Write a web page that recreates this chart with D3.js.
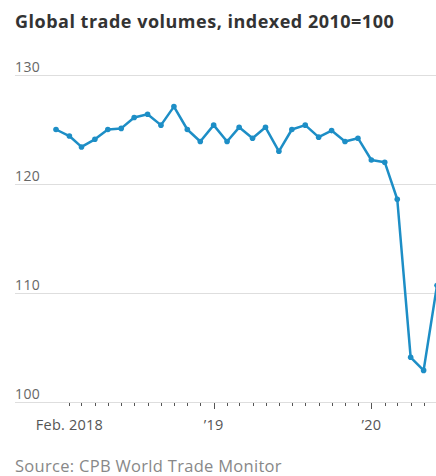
<!DOCTYPE html>
<html>
<head>
<meta charset="utf-8">
<script src="https://cdn.jsdelivr.net/npm/d3@7"></script>
<style>
  body { margin: 0; background: #fff; }
  svg { display: block; }
</style>
</head>
<body>
<svg id="chart" width="436" height="476"></svg>
<script>
// monthly index values, Jan 2018 .. Jun 2020
var months = ["2018-01","2018-02","2018-03","2018-04","2018-05","2018-06","2018-07","2018-08","2018-09","2018-10","2018-11","2018-12",
              "2019-01","2019-02","2019-03","2019-04","2019-05","2019-06","2019-07","2019-08","2019-09","2019-10","2019-11","2019-12",
              "2020-01","2020-02","2020-03","2020-04","2020-05","2020-06"];
var volumes = [125.0, 124.4, 123.4, 124.1, 125.0, 125.1, 126.1, 126.4, 125.4, 127.1, 125.0, 123.9,
               125.4, 123.9, 125.2, 124.2, 125.2, 123.0, 125.0, 125.4, 124.3, 124.9, 123.9, 124.2,
               122.2, 122.0, 118.6, 104.1, 102.9, 110.7];
var yTicks = [100, 110, 120, 130];
var xLabels = [["2018-02", "Feb. 2018"], ["2019-01", "\u201919"], ["2020-01", "\u201920"]];

var parse = d3.timeParse("%Y-%m");
var data = months.map(function(m, i){ return {date: parse(m), value: volumes[i]}; });

var svg = d3.select("#chart");
var W = 436;

var x = d3.scaleTime()
    .domain([parse("2018-01"), parse("2020-06")])
    .range([56, 437]);
var y = d3.scaleLinear()
    .domain([100, 130])
    .range([402, 75]);

// title
svg.append("text")
    .attr("x", 15).attr("y", 28)
    .text("Global trade volumes, indexed 2010=100")
    .style("font-family", "Open Sans")
    .style("font-weight", "bold")
    .style("font-size", "18px")
    .style("letter-spacing", "0.5px")
    .style("fill", "#333");

// gridlines + labels
var grid = svg.append("g");
grid.selectAll("line").data(yTicks).enter().append("line")
    .attr("x1", 15).attr("x2", W)
    .attr("y1", function(d){ return y(d) + 0.5; })
    .attr("y2", function(d){ return y(d) + 0.5; })
    .style("stroke", "#dedede")
    .style("stroke-width", 1);
grid.selectAll("text").data(yTicks).enter().append("text")
    .attr("x", 15)
    .attr("y", function(d){ return y(d) - 3; })
    .text(function(d){ return d; })
    .style("font-family", "Open Sans")
    .style("font-size", "14px")
    .style("letter-spacing", "0.4px")
    .style("fill", "#666");

// monthly tick marks
var tickDates = d3.timeMonth.range(parse("2018-02"), parse("2020-07"));
svg.append("g").selectAll("line").data(tickDates).enter().append("line")
    .attr("x1", function(d){ return Math.round(x(d)) + 0.5; })
    .attr("x2", function(d){ return Math.round(x(d)) + 0.5; })
    .attr("y1", y(100) + 1)
    .attr("y2", function(d){ return d.getMonth() == 0 ? y(100) + 7 : y(100) + 4; })
    .style("stroke", "#555")
    .style("stroke-width", 1);

svg.append("g").selectAll("text").data(xLabels).enter().append("text")
    .attr("x", function(d){ return x(parse(d[0])); })
    .attr("y", 430)
    .attr("text-anchor", "middle")
    .text(function(d){ return d[1]; })
    .style("font-family", "Open Sans")
    .style("font-size", "14.5px")
    .style("letter-spacing", "0.2px")
    .style("fill", "#555");

// line + dots
var line = d3.line()
    .x(function(d){ return x(d.date); })
    .y(function(d){ return y(d.value); });

svg.append("path")
    .datum(data)
    .attr("d", line)
    .style("fill", "none")
    .style("stroke", "#1d8ec6")
    .style("stroke-width", 2.5)
    .style("stroke-linejoin", "round");

svg.append("g").selectAll("circle").data(data).enter().append("circle")
    .attr("cx", function(d){ return x(d.date); })
    .attr("cy", function(d){ return y(d.value); })
    .attr("r", 2.8)
    .style("fill", "#1d8ec6");

// source
svg.append("text")
    .attr("x", 15).attr("y", 472)
    .text("Source: CPB World Trade Monitor")
    .style("font-family", "Open Sans")
    .style("font-size", "16.5px")
    .style("letter-spacing", "0.3px")
    .style("fill", "#888");
</script>
</body>
</html>
